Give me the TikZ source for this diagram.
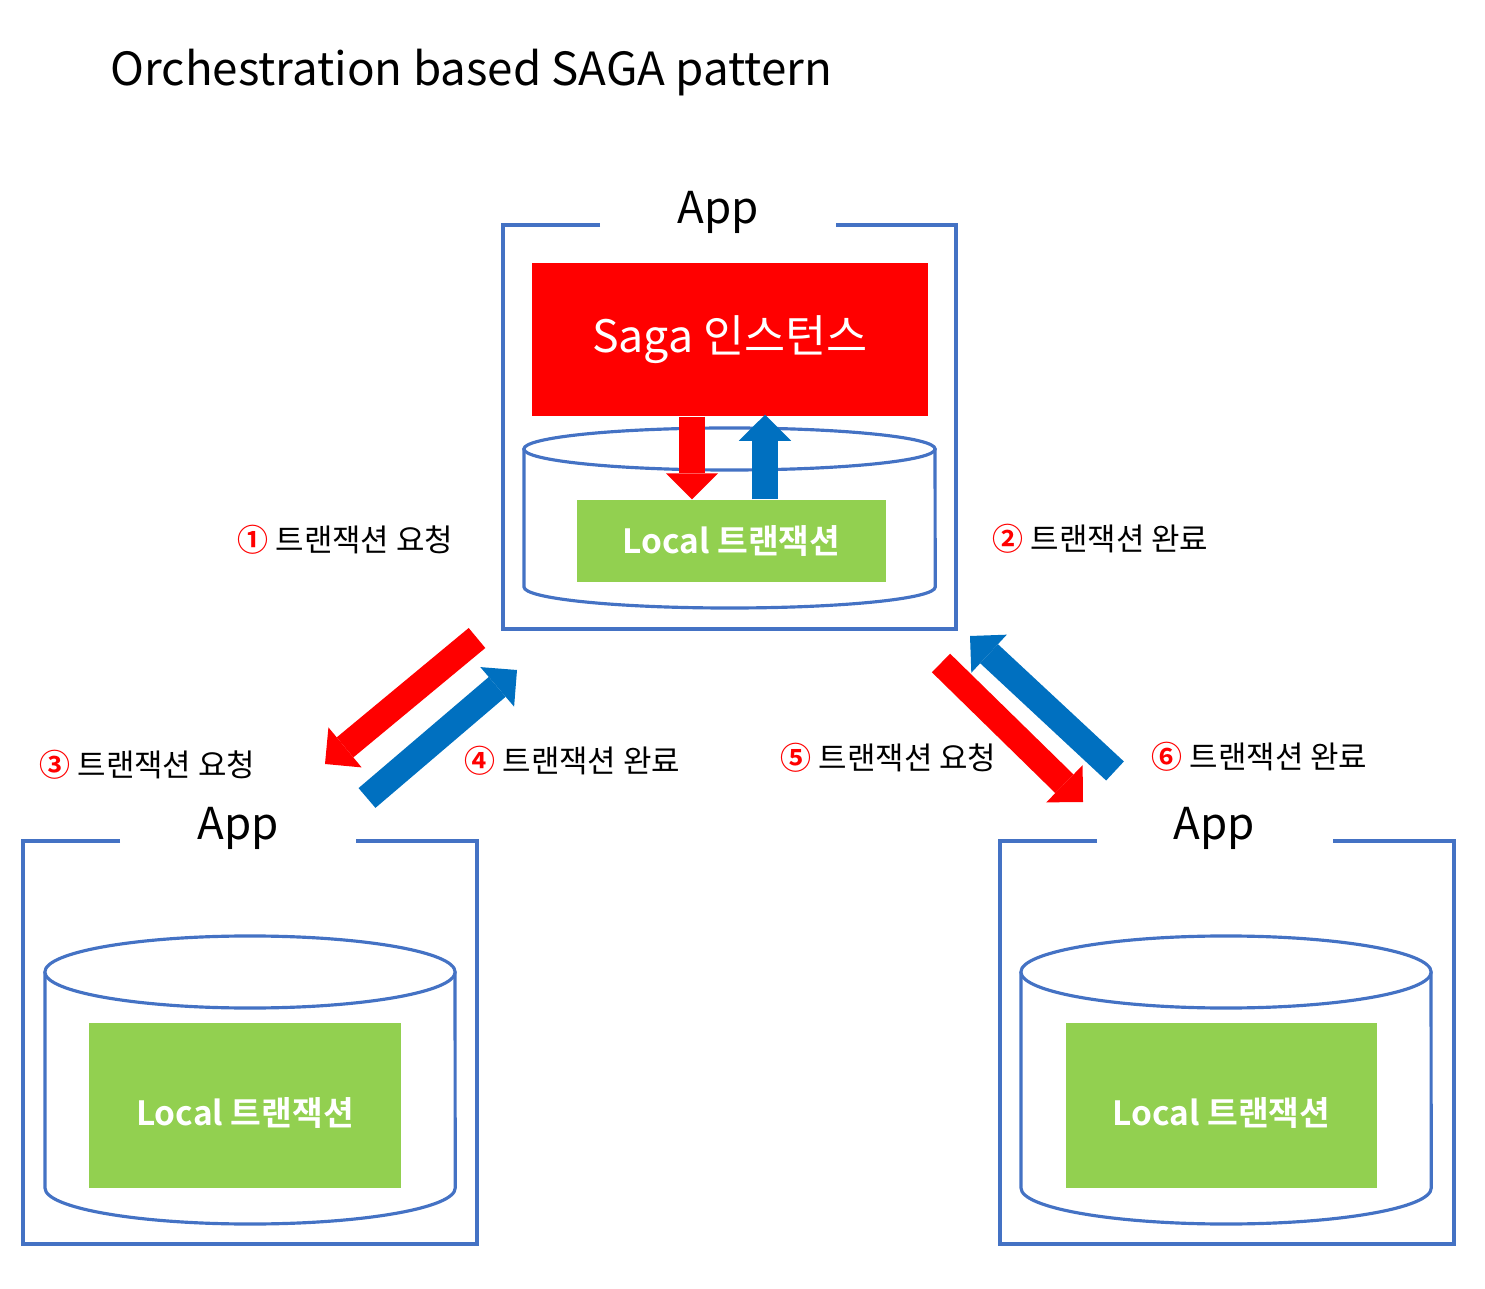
\documentclass[tikz,border=0pt]{standalone}
\usepackage{fontspec}
\setmainfont{Noto Sans CJK KR}[BoldFont={Noto Sans CJK KR Bold}]
\usetikzlibrary{arrows.meta,positioning}
\definecolor{frameblue}{HTML}{4472C4}
\definecolor{sagared}{HTML}{FF0000}
\definecolor{arrowblue}{HTML}{0070C0}
\definecolor{localgreen}{HTML}{92D050}
\tikzset{
  appframe/.style={draw=frameblue, line width=1.2pt},
  dbline/.style  ={draw=frameblue, line width=0.9pt, fill=white},
  sagabox/.style ={fill=sagared, text=white, inner sep=0pt, font=\fontsize{12.7}{15}\selectfont},
  localbox/.style={fill=localgreen, text=white, inner sep=0pt, font=\fontsize{9.5}{12}\selectfont\bfseries},
  applbl/.style  ={font=\fontsize{12.5}{15}\selectfont},
  steplbl/.style ={anchor=west, inner sep=0pt, font=\fontsize{8.8}{11}\selectfont},
  redarr/.style  ={draw=sagared, line width=0.26cm, -{Triangle[length=0.26cm, width=0.52cm, line width=0pt]}},
  bluearr/.style ={draw=arrowblue, line width=0.26cm, -{Triangle[length=0.26cm, width=0.52cm, line width=0pt]}}
}
\newcommand{\stepno}[1]{\textcolor{sagared}{\bfseries #1}}

\begin{document}
\begin{tikzpicture}[x=0.01cm, y=-0.01cm]
\useasboundingbox (0,0) rectangle (1485,1289);

\node[anchor=base west, inner sep=0pt, font=\fontsize{13}{16}\selectfont] (title) at (110,86) {Orchestration based SAGA pattern};

% orchestrator app
\draw[appframe] (600,225) -| (503,629) -| (956,225) -- (836,225);
\node[applbl] (appTop) at (718,212) {App};
\filldraw[dbline] (524,449) -- (524,587) arc[start angle=180, end angle=360, x radius=2.055cm, y radius=0.21cm] -- (935,449);
\draw[dbline] (729.5,449) ellipse [x radius=2.055cm, y radius=0.21cm];
\node[sagabox, minimum width=3.96cm, minimum height=1.53cm] (saga) at (730,339.5) {Saga 인스턴스};
\node[localbox, minimum width=3.09cm, minimum height=0.82cm] (localTop) at (731.5,541) {Local 트랜잭션};
\coordinate (redX) at (692,0);
\coordinate (blueX) at (765,0);
\draw[redarr] (saga.south -| redX) -- (localTop.north -| redX);
\draw[bluearr] (localTop.north -| blueX) -- ([yshift=0.02cm]saga.south -| blueX);

% left participant
\draw[appframe] (120,841) -| (23,1244) -| (477,841) -- (356,841);
\node[applbl] (appLeft) at (238,828) {App};
\filldraw[dbline] (45,972) -- (45,1188) arc[start angle=180, end angle=360, x radius=2.05cm, y radius=0.36cm] -- (455,972);
\draw[dbline] (250,972) ellipse [x radius=2.05cm, y radius=0.36cm];
\node[localbox, minimum width=3.12cm, minimum height=1.65cm, text height=0.42cm] (localLeft) at (245,1105.5) {Local 트랜잭션};

% right participant
\draw[appframe] (1097,841) -| (1000,1244) -| (1454,841) -- (1333,841);
\node[applbl] (appRight) at (1214,828) {App};
\filldraw[dbline] (1021,972) -- (1021,1188) arc[start angle=180, end angle=360, x radius=2.05cm, y radius=0.36cm] -- (1431,972);
\draw[dbline] (1226,972) ellipse [x radius=2.05cm, y radius=0.36cm];
\node[localbox, minimum width=3.11cm, minimum height=1.65cm, text height=0.42cm] (localRight) at (1221.5,1105.5) {Local 트랜잭션};

% requests and replies
\coordinate (req1a) at (477,638);  \coordinate (req1b) at (325,764);
\coordinate (rep1a) at (367,798);  \coordinate (rep1b) at (517,670);
\coordinate (req2a) at (941,663);  \coordinate (req2b) at (1083,802);
\coordinate (rep2a) at (1115,771); \coordinate (rep2b) at (970,636);
\draw[redarr] (req1a) -- (req1b);
\draw[bluearr] (rep1a) -- (rep1b);
\draw[redarr] (req2a) -- (req2b);
\draw[bluearr] (rep2a) -- (rep2b);

\node[steplbl] (lbl1) at (237,540) {\stepno{①} 트랜잭션 요청};
\node[steplbl] (lbl2) at (992,539) {\stepno{②} 트랜잭션 완료};
\node[steplbl] (lbl3) at (39,765)  {\stepno{③} 트랜잭션 요청};
\node[steplbl] (lbl4) at (464,761) {\stepno{④} 트랜잭션 완료};
\node[steplbl] (lbl5) at (780,758) {\stepno{⑤} 트랜잭션 요청};
\node[steplbl] (lbl6) at (1151,757) {\stepno{⑥} 트랜잭션 완료};
\end{tikzpicture}
\end{document}
